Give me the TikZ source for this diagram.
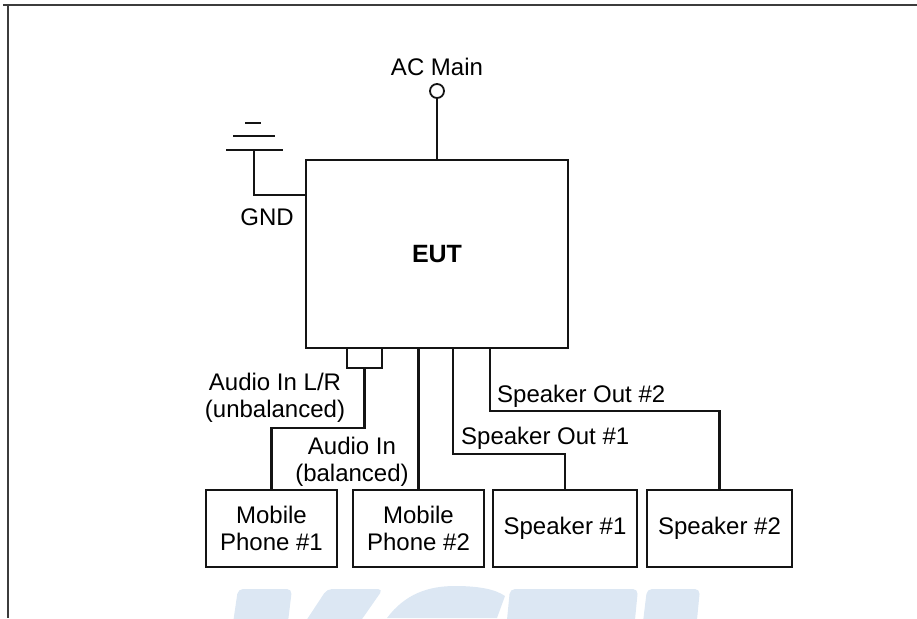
\documentclass[tikz,border=0pt]{standalone}
\usepackage{fontspec}
\setmainfont{Liberation Sans}
\usetikzlibrary{calc}
\definecolor{wm}{RGB}{220,231,243}
\definecolor{ln}{RGB}{20,20,20}
\definecolor{frm}{RGB}{60,60,60}
\tikzset{
  wire/.style={draw=ln, line width=2.1pt},
  box/.style={draw=ln, line width=2.1pt, rectangle, inner sep=0pt, align=center,
    font=\fontsize{24}{27}\selectfont},
  lbl/.style={inner sep=0pt, align=center, font=\fontsize{24}{27}\selectfont},
}
\begin{document}
\begin{tikzpicture}[x=1pt,y=-1pt]
\useasboundingbox (0,0) rectangle (917,618);
% watermark
\begin{scope}
\clip (0,0) rectangle (917,618);
\fill[wm, rounded corners=5pt] (238,589) -- (292,589) -- (287,630) -- (232,630) -- cycle;
\fill[wm, rounded corners=5pt] (327,589) -- (383,589) -- (360,622) -- (300,630) -- cycle;
\fill[wm] (387,618) .. controls (405,594) and (428,586) .. (455,586) .. controls (478,586) and (495,589) .. (505,596) -- (497,618) -- cycle;
\fill[wm, rounded corners=5pt] (510,589) -- (638,589) -- (634,630) -- (506,630) -- cycle;
\fill[wm, rounded corners=5pt] (647,589) -- (700,589) -- (696,630) -- (642,630) -- cycle;
\end{scope}
% frame
\draw[frm, line width=2.8pt] (3,5) -- (917,5);
\draw[frm, line width=2.8pt] (8,5) -- (8,618);
% nodes
\node[box, minimum width=262pt, minimum height=188pt, font=\fontsize{25}{28}\selectfont\bfseries] (eut) at (437,254) {EUT};
\node[box, minimum width=35pt, minimum height=20pt] (conn) at (364.5,358) {};
\node[box, minimum width=131pt, minimum height=77pt] (ph1) at (271.5,528.5) {Mobile\\Phone \#1};
\node[box, minimum width=131pt, minimum height=77pt] (ph2) at (418.5,528.5) {Mobile\\Phone \#2};
\node[box, minimum width=144pt, minimum height=77pt] (sp1) at (565,528.5) {Speaker \#1};
\node[box, minimum width=145pt, minimum height=77pt] (sp2) at (719.5,528.5) {Speaker \#2};
\node[draw=ln, line width=1.8pt, circle, minimum size=14pt, inner sep=0pt] (ac) at (437,91) {};
\node[lbl] (aclbl) at (437,67) {AC Main};
\coordinate (gnd) at (254,150);
\node[lbl] (gndlbl) at (267,217) {GND};
\node[lbl] (ailr) at (275,398) {Audio In L/R\\(unbalanced)};
\node[lbl] (aib) at (352,462) {Audio In\\(balanced)};
\node[lbl, anchor=west] (so1) at (461,438) {Speaker Out \#1};
\node[lbl, anchor=west] (so2) at (497,396) {Speaker Out \#2};
% ground symbol
\draw[wire] ($(gnd)+(-28,0)$) -- ($(gnd)+(29,0)$);
\draw[wire] ($(gnd)+(-21,-14)$) -- ($(gnd)+(21,-14)$);
\draw[wire] ($(gnd)+(-9,-27)$) -- ($(gnd)+(7,-27)$);
% connectors
\draw[wire] (ac.south) -- (eut.north);
\draw[wire] (gnd) |- ($(eut.north west)+(0,36)$);
\draw[wire] (conn.south) -- ($(conn.south)+(0,59)$) -| (ph1.north);
\draw[wire] (eut.south -| ph2.north) -- (ph2.north);
\coordinate (s1) at ($(eut.south west)+(148,0)$);
\coordinate (s2) at ($(eut.south west)+(185,0)$);
\draw[wire] (s1) |- ($(sp1.north)+(0,-35)$) -- (sp1.north);
\draw[wire] (s2) |- ($(sp2.north)+(0,-78)$) -- (sp2.north);
\end{tikzpicture}
\end{document}
